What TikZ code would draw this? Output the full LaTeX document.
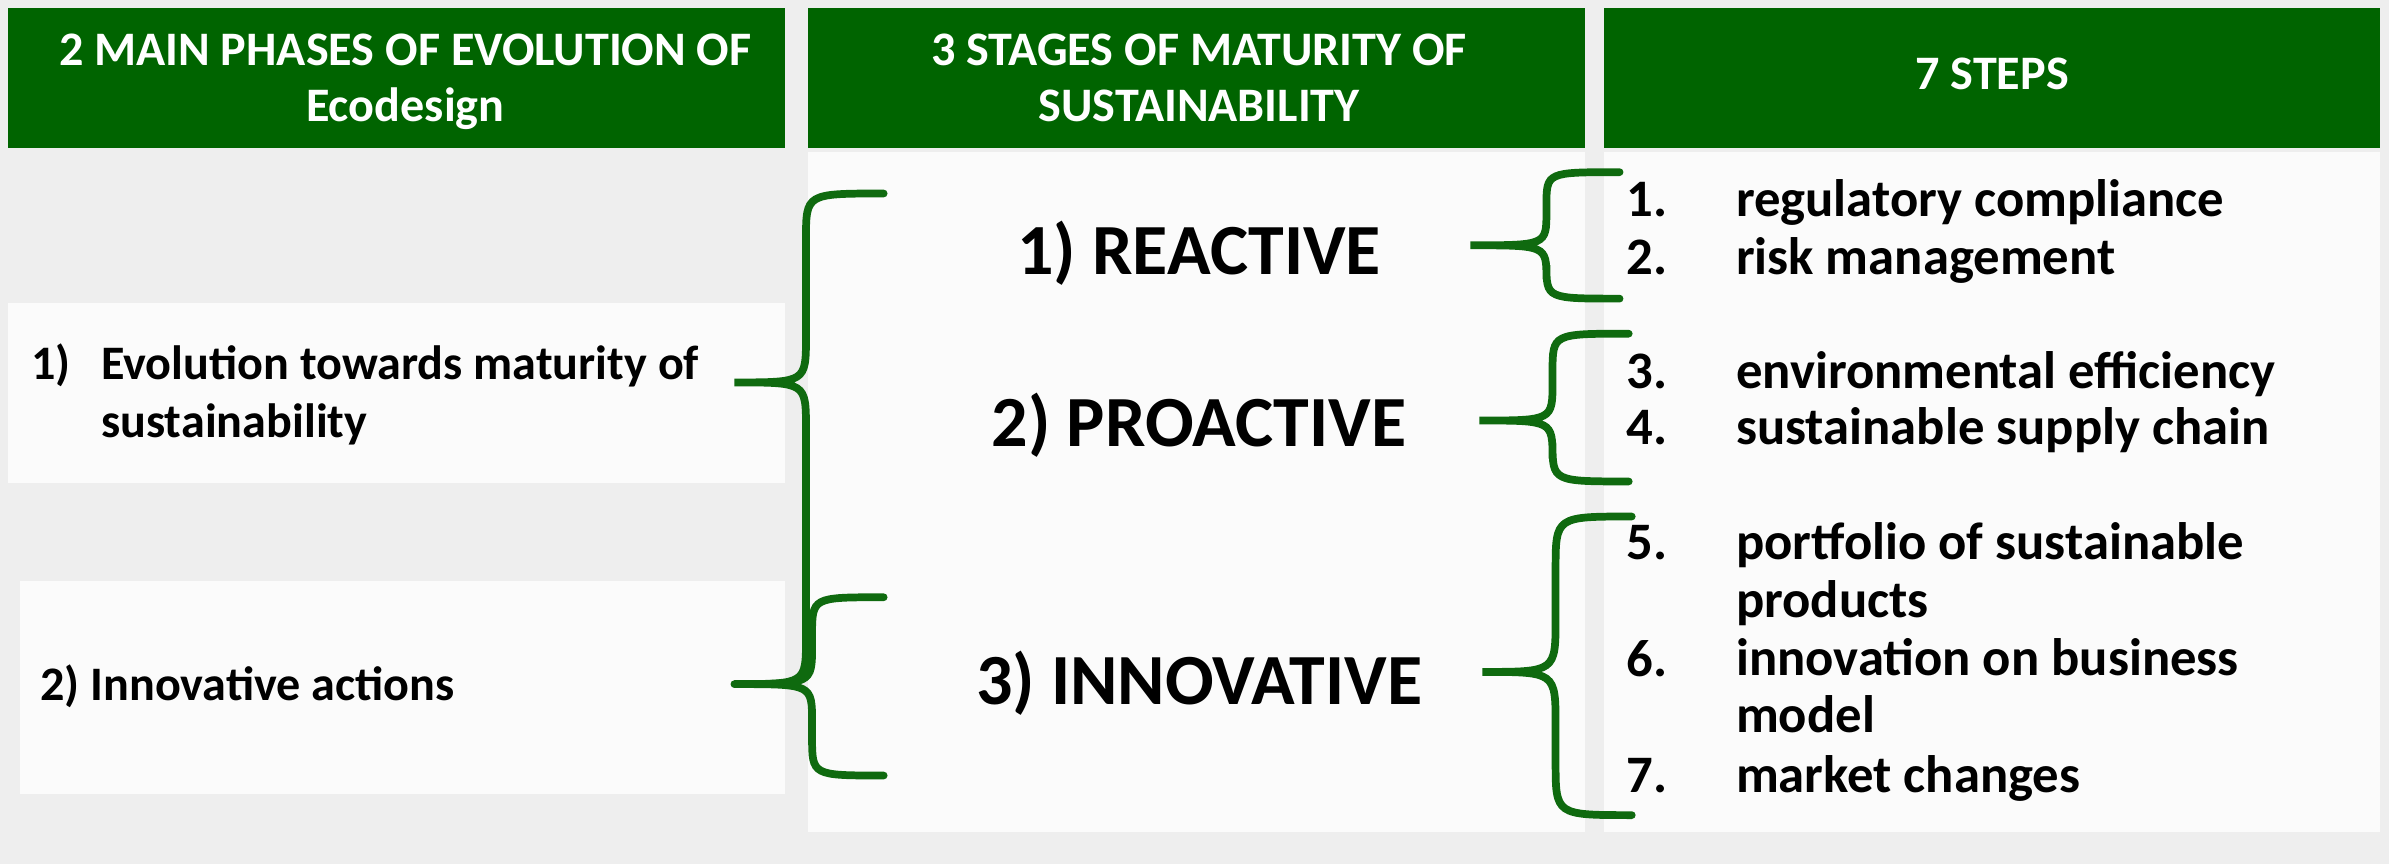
\documentclass[tikz,border=0pt]{standalone}
\usepackage{fontspec}
\setmainfont{Carlito}
\definecolor{hdgreen}{HTML}{006400}
\definecolor{brgreen}{HTML}{0F6A0F}
\definecolor{paper}{HTML}{EEEEEE}
% curly brace: top arm x, bottom arm x, spine x, tip x, top y, tip y, bottom y, bend
\newcommand{\curly}[8]{%
  \draw[brc] (#1,#5) .. controls (#3,#5) .. (#3,#5+#8) -- (#3,#6-#8)
    .. controls (#3,#6) .. (#4,#6) .. controls (#3,#6) .. (#3,#6+#8)
    -- (#3,#7-#8) .. controls (#3,#7) .. (#2,#7);}

\begin{document}
\begin{tikzpicture}[x=0.015236cm,y=-0.015236cm,
		headbox/.style={fill=hdgreen},
		headtext/.style={anchor=base,inner sep=0pt,align=center,text=white,
			font=\bfseries\fontsize{13.7}{16}\selectfont},
		panel/.style={fill=white,fill opacity=0.8},
		stage/.style={anchor=base,inner sep=0pt,font=\bfseries\fontsize{20.5}{24}\selectfont},
		phase/.style={anchor=base west,inner sep=0pt,align=left,font=\bfseries\fontsize{13.7}{16.4}\selectfont},
		item/.style={anchor=base west,inner sep=0pt,align=left,font=\bfseries\fontsize{15}{16.4}\selectfont},
		brc/.style={draw=brgreen,line width=2.2pt,line cap=round}
		]
		\useasboundingbox (0,0) rectangle (1568,567);
		\fill[paper] (0,0) rectangle (1568,567);
		\fill[panel] (5,199) rectangle (515,317);
		\fill[panel] (13,381) rectangle (515,521);
		\fill[panel] (530,100) rectangle (1040,546);
		\fill[panel] (1053,100) rectangle (1562,546);
		
		% headers
		\fill[headbox] (5,5) rectangle (515,97);
		\fill[headbox] (530,5) rectangle (1040,97);
		\fill[headbox] (1053,5) rectangle (1562,97);
		\node[headtext] (h1) at (266,79.9) {2 MAIN PHASES OF EVOLUTION OF\\Ecodesign};
		\node[headtext] (h2) at (787,79.9) {3 STAGES OF MATURITY OF\\SUSTAINABILITY};
		\node[headtext] (h3) at (1307.5,58.5) {7 STEPS};
		
		\node[phase] (p1n) at (20,249.4) {1)};
		\node[phase] (p1) at (66,287) {Evolution towards maturity of\\sustainability};
		\node[phase] (p2) at (26,460) {2) Innovative actions};
		
		\node[stage] (st1) at (787,180.4) {1) REACTIVE};
		\node[stage] (st2) at (787,292.8) {2) PROACTIVE};
		\node[stage] (st3) at (787,462.7) {3) INNOVATIVE};
		
		\foreach \i/\y/\z/\t in {1/142/142/regulatory compliance,2/180/180/risk management,
			3/255/255/environmental efficiency,4/292/292/sustainable supply chain,
			5/367/405/{portfolio of sustainable\\products},
			6/444/481/{innovation on business\\model},7/520/520/market changes} {
			\node[item] (n\i) at (1067,\y) {\i.};
			\node[item] (s\i) at (1139,\z) {\t};
		}
		
		\curly{580}{482}{529}{482}{127}{251}{449}{30}
		\curly{580}{580}{533}{482}{392}{449}{509}{25}
		\curly{1063}{1063}{1015}{965}{113}{161}{196}{22}
		\curly{1069}{1069}{1019}{971}{219}{276}{316}{25}
		\curly{1071}{1071}{1021}{973}{339}{441}{535}{35}
	\end{tikzpicture}
\end{document}
